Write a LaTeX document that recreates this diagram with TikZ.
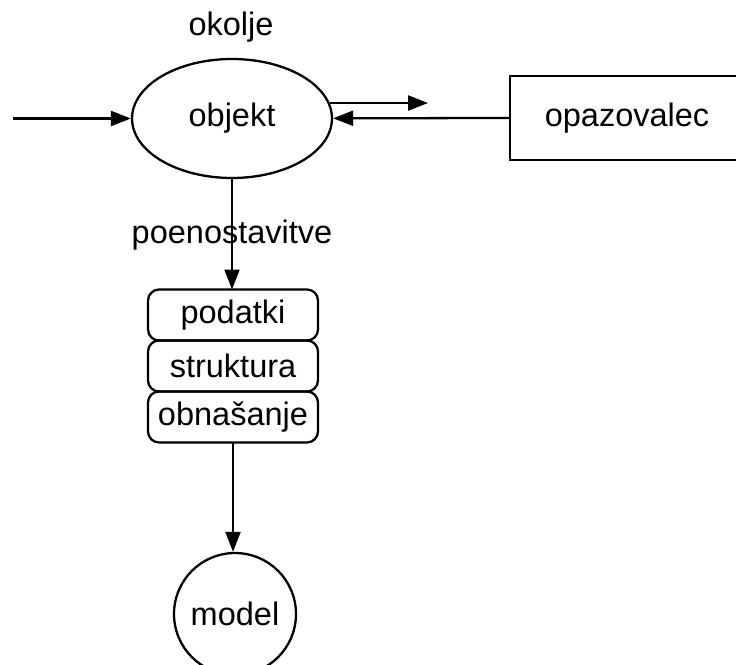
\documentclass[tikz,border=0pt]{standalone}
\usepackage{fontspec}
\setmainfont{Liberation Sans}
\usetikzlibrary{positioning,shapes.geometric,arrows.meta}
\begin{document}
\begin{tikzpicture}[x=0.02cm,y=-0.02cm,line width=1.3pt,
        font=\fontsize{18.5}{22}\selectfont,
        arr/.style={-{Triangle[length=0.4cm,width=0.3cm]}},
        part/.style={draw,rounded corners=0.22cm,minimum width=3.4cm,minimum height=1.02cm,inner sep=0pt,outer sep=0pt}]
            \useasboundingbox (0,0) rectangle (736,665);
            \node (okolje) at (231,27) {okolje};
            \node[draw,ellipse,minimum width=4cm,minimum height=2.38cm,inner sep=0pt] (objekt) at (232,118.5) {objekt};
            \node[draw,minimum width=4.68cm,minimum height=1.68cm,inner sep=0pt] (opazovalec) at (627,118) {opazovalec};
            \node (poeno) at (232,235) {poenostavitve};
            \node[part] (podatki) at (233,315) {podatki};
            \node[part,below=0pt of podatki] (struktura) {struktura};
            \node[part,below=0pt of struktura] (obnasanje) {obna\v{s}anje};
            \node[draw,circle,minimum size=2.44cm,inner sep=0pt] (model) at (235,614) {model};
            \coordinate (vhod) at (13,118.5);
            \coordinate (signal) at (428,103);
            \draw[arr] (vhod) -- (objekt);
            \draw[arr] (objekt.9) -- (objekt.9 -| signal);
            \draw[arr] (opazovalec.west) -- (objekt);
            \draw[arr] (objekt.south) -- (objekt.south |- podatki.north);
            \draw[arr] (obnasanje.south) -- (obnasanje.south |- model.north);
        \end{tikzpicture}
\end{document}
